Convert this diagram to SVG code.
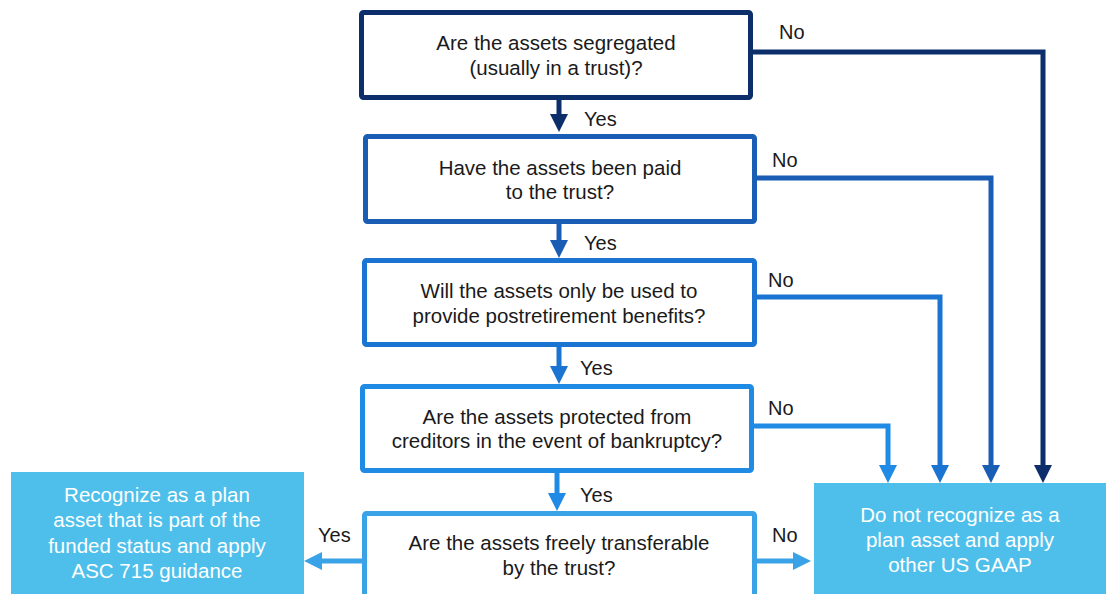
<svg xmlns="http://www.w3.org/2000/svg" width="1106" height="594" viewBox="0 0 1106 594">
<style>
text{font-family:"Liberation Sans",Arial,sans-serif;font-size:20.5px;text-anchor:middle;fill:#1a1a1a}
.lbl{text-anchor:start;font-size:20px}
.wt{fill:#ffffff}
.q{fill:#ffffff;stroke-width:5}
.c{fill:none;stroke-width:5;stroke-linejoin:miter}
</style>
<defs>
<marker id="m1" viewBox="0 0 18 18" refX="8" refY="9" markerWidth="18" markerHeight="18" markerUnits="userSpaceOnUse" orient="auto"><path d="M0,0 L18,9 L0,18 z" fill="#0c2e6a"/></marker>
<marker id="m2" viewBox="0 0 18 18" refX="8" refY="9" markerWidth="18" markerHeight="18" markerUnits="userSpaceOnUse" orient="auto"><path d="M0,0 L18,9 L0,18 z" fill="#1a5db5"/></marker>
<marker id="m3" viewBox="0 0 18 18" refX="8" refY="9" markerWidth="18" markerHeight="18" markerUnits="userSpaceOnUse" orient="auto"><path d="M0,0 L18,9 L0,18 z" fill="#1b74d1"/></marker>
<marker id="m4" viewBox="0 0 18 18" refX="8" refY="9" markerWidth="18" markerHeight="18" markerUnits="userSpaceOnUse" orient="auto"><path d="M0,0 L18,9 L0,18 z" fill="#1f8be4"/></marker>
<marker id="m5" viewBox="0 0 18 18" refX="8" refY="9" markerWidth="18" markerHeight="18" markerUnits="userSpaceOnUse" orient="auto"><path d="M0,0 L18,9 L0,18 z" fill="#3aa3e7"/></marker>
</defs>

<g id="connectors">
<path class="c" stroke="#0c2e6a" d="M559,100 V122" marker-end="url(#m1)"/>
<path class="c" stroke="#1a5db5" d="M559,224 V248" marker-end="url(#m2)"/>
<path class="c" stroke="#1b74d1" d="M559,347 V374" marker-end="url(#m3)"/>
<path class="c" stroke="#1f8be4" d="M557,473 V501" marker-end="url(#m4)"/>
<path class="c" stroke="#0c2e6a" d="M750,52 H1043 V473" marker-end="url(#m1)"/>
<path class="c" stroke="#1a5db5" d="M754,178 H991 V473" marker-end="url(#m2)"/>
<path class="c" stroke="#1b74d1" d="M754,297 H940 V473" marker-end="url(#m3)"/>
<path class="c" stroke="#1f8be4" d="M751,426 H888 V473" marker-end="url(#m4)"/>
<path class="c" stroke="#3aa3e7" d="M757,561 H801" marker-end="url(#m5)"/>
<path class="c" stroke="#3aa3e7" d="M362,561 H314" marker-end="url(#m5)"/>
<text class="lbl" x="584" y="126">Yes</text>
<text class="lbl" x="584" y="250">Yes</text>
<text class="lbl" x="580" y="375">Yes</text>
<text class="lbl" x="580" y="502">Yes</text>
<text class="lbl" x="779" y="39">No</text>
<text class="lbl" x="772" y="167">No</text>
<text class="lbl" x="768" y="287">No</text>
<text class="lbl" x="768" y="415">No</text>
<text class="lbl" x="772" y="542">No</text>
<text class="lbl" x="318" y="542">Yes</text>
</g>

<g id="q1">
<rect class="q" x="361.5" y="12.5" width="389" height="85" rx="2" stroke="#0c2e6a"/>
<text x="556" y="50">Are the assets segregated</text>
<text x="556" y="75">(usually in a trust)?</text>
</g>
<g id="q2">
<rect class="q" x="365.5" y="136.5" width="389" height="85" rx="2" stroke="#1a5db5"/>
<text x="560" y="175">Have the assets been paid</text>
<text x="560" y="199">to the trust?</text>
</g>
<g id="q3">
<rect class="q" x="364.5" y="260.5" width="390" height="84" rx="2" stroke="#1b74d1"/>
<text x="559" y="298">Will the assets only be used to</text>
<text x="559" y="323">provide postretirement benefits?</text>
</g>
<g id="q4">
<rect class="q" x="362.5" y="386.5" width="389" height="84" rx="2" stroke="#1f8be4"/>
<text x="557" y="424">Are the assets protected from</text>
<text x="557" y="448">creditors in the event of bankruptcy?</text>
</g>
<g id="q5">
<rect class="q" x="364.5" y="513.5" width="390" height="100" rx="2" stroke="#3aa3e7"/>
<text x="559" y="550">Are the assets freely transferable</text>
<text x="559" y="575">by the trust?</text>
</g>
<g id="recognize">
<rect x="11" y="472" width="293" height="122" fill="#4ebfeb"/>
<text class="wt" x="157" y="502">Recognize as a plan</text>
<text class="wt" x="157" y="527">asset that is part of the</text>
<text class="wt" x="157" y="553">funded status and apply</text>
<text class="wt" x="157" y="578">ASC 715 guidance</text>
</g>
<g id="notrecognize">
<rect x="814" y="483" width="292" height="111" fill="#4ebfeb"/>
<text class="wt" x="960" y="522">Do not recognize as a</text>
<text class="wt" x="960" y="547">plan asset and apply</text>
<text class="wt" x="960" y="572">other US GAAP</text>
</g>
</svg>
